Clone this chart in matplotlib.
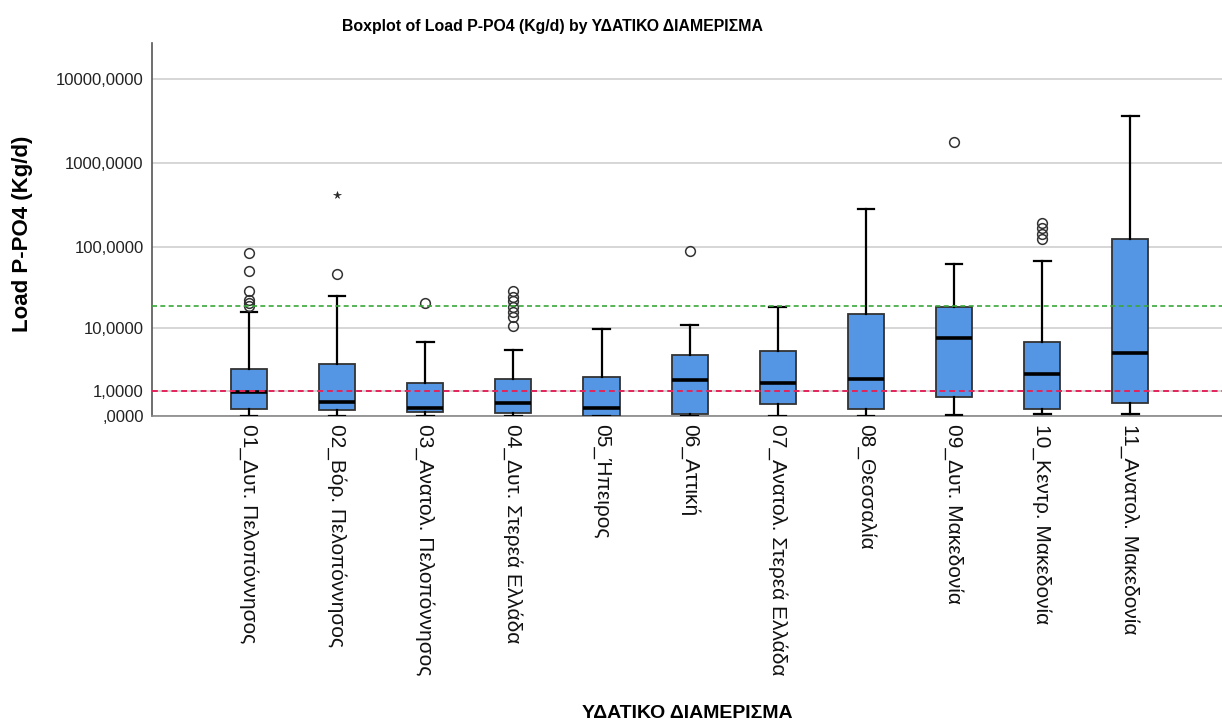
import numpy as np
import matplotlib
matplotlib.use("Agg")
import matplotlib.pyplot as plt
from matplotlib import font_manager

# ── Data: five-number summaries per water district (Kg/d) ─────────────────────
regions = [
    "01_Δυτ. Πελοπόννησος",
    "02_Βόρ. Πελοπόννησος",
    "03_Ανατολ. Πελοπόννησος",
    "04_Δυτ. Στερεά Ελλάδα",
    "05_Ήπειρος",
    "06_Αττική",
    "07_Ανατολ. Στερεά Ελλάδα",
    "08_Θεσσαλία",
    "09_Δυτ. Μακεδονία",
    "10_Κεντρ. Μακεδονία",
    "11_Ανατολ. Μακεδονία",
]
whisker_lo = [0.0, 0.0, 0.0, 0.0, 0.0, 0.0, 0.0, 0.0, 0.036, 0.047, 0.065]
q1         = [0.21, 0.18, 0.106, 0.077, 0.01, 0.056, 0.38, 0.22, 0.69, 0.21, 0.44]
median     = [0.91, 0.45, 0.23, 0.44, 0.26, 1.70, 1.44, 1.72, 7.5, 2.18, 4.55]
q3         = [2.61, 3.14, 1.48, 1.77, 1.88, 4.30, 4.91, 15.2, 18.8, 6.62, 125.0]
whisker_hi = [16.0, 25.6, 6.55, 5.03, 9.87, 10.9, 18.7, 283.0, 62.7, 68.8, 3638.0]
outliers = [
    [19.2, 21.1, 22.8, 29.5, 51.6, 85.7],
    [47.1],
    [20.9],
    [10.6, 14.1, 16.3, 18.5, 22.0, 24.6, 29.5],
    [],
    [90.6],
    [],
    [],
    [1802.0],
    [125.0, 143.6, 168.0, 196.0],
    [],
]
extremes = [[], [419.0], [], [], [], [], [], [], [], [], []]

ref_red = 1.0
ref_green = 19.3

y_ticks = [0, 1, 10, 100, 1000, 10000]
y_ticklabels = [",0000", "1,0000", "10,0000", "100,0000", "1000,0000", "10000,0000"]

title = "Boxplot of Load P-PO4 (Kg/d) by ΥΔΑΤΙΚΟ ΔΙΑΜΕΡΙΣΜΑ"
y_title = "Load P-PO4 (Kg/d)"
x_title = "ΥΔΑΤΙΚΟ ΔΙΑΜΕΡΙΣΜΑ"

# ── Style ────────────────────────────────────────────────────────────────────
plt.rcParams["font.family"] = ["Liberation Sans", "DejaVu Sans"]
BOX_BLUE = "#5596e4"
EDGE = "#333333"

try:
    font_manager.findfont(font_manager.FontProperties(family="Liberation Sans Narrow"),
                          fallback_to_default=False)
    tick_family, tick_size = ["Liberation Sans Narrow", "DejaVu Sans"], 18.5
except ValueError:
    tick_family, tick_size = ["Liberation Sans", "DejaVu Sans"], 15


def fwd(v):
    return np.log10(np.clip(v, 0, None) + 1)


def inv(t):
    return 10 ** t - 1


fig = plt.figure(figsize=(12.22, 7.2), dpi=100, facecolor="white")
ax = fig.add_axes([152 / 1222, 1 - 416 / 720, 1 - 152 / 1222, (416 - 43) / 720])
ax.set_yscale("function", functions=(fwd, inv))

stats = []
for i, name in enumerate(regions):
    stats.append(dict(label=name, whislo=whisker_lo[i], q1=q1[i], med=median[i],
                      q3=q3[i], whishi=whisker_hi[i], fliers=outliers[i]))

positions = np.arange(len(regions))
ax.bxp(stats, positions=positions, widths=0.41, capwidths=0.19,
       patch_artist=True, showfliers=True,
       boxprops=dict(facecolor=BOX_BLUE, edgecolor=EDGE, linewidth=1.3),
       medianprops=dict(color="black", linewidth=2.6),
       whiskerprops=dict(color="black", linewidth=1.6),
       capprops=dict(color="black", linewidth=1.6),
       flierprops=dict(marker="o", markersize=7, markerfacecolor="none",
                       markeredgecolor=EDGE, markeredgewidth=1.1),
       zorder=3)

# extreme values get an asterisk instead of a circle
for i, ext in enumerate(extremes):
    if ext:
        ax.plot([positions[i]] * len(ext), ext, linestyle="none", marker="*",
                markersize=5.5, color="#222222", markeredgewidth=0.4, zorder=4)

ax.axhline(ref_red, color="#e3245a", linestyle=(0, (3, 2)), linewidth=1.4, zorder=4)
ax.axhline(ref_green, color="#3aa83a", linestyle=(0, (3, 2)), linewidth=1.2, zorder=4)

ax.set_ylim(0, 26700)
ax.set_xlim(-1.10, 11.04)
ax.set_yticks(y_ticks)
ax.set_yticklabels(y_ticklabels, fontsize=12, color="#222222")
ax.yaxis.set_minor_locator(matplotlib.ticker.NullLocator())
ax.grid(axis="y", color="#d3d3d3", linewidth=1.3, zorder=0)
ax.set_axisbelow(True)

ax.set_xticks(positions)
ax.set_xticklabels(regions, rotation=-90, ha="center", va="top",
                   fontsize=tick_size, family=tick_family, color="#111111")
ax.tick_params(axis="both", length=0)
ax.tick_params(axis="y", pad=6)
ax.tick_params(axis="x", pad=6)

for side in ("top", "right"):
    ax.spines[side].set_visible(False)
ax.spines["left"].set_color("#555555")
ax.spines["bottom"].set_color("#888888")
ax.spines["left"].set_linewidth(1.2)
ax.spines["bottom"].set_linewidth(1.2)

fig.text(552 / 1222, 1 - 27 / 720, title, ha="center", va="center",
         fontsize=11.4, fontweight="bold")
fig.text(23 / 1222, 1 - 234 / 720, y_title, ha="center", va="center",
         rotation=90, fontsize=16, fontweight="bold")
fig.text(687 / 1222, 1 - 705 / 720, x_title, ha="center", va="top",
         fontsize=14, fontweight="bold")

fig.savefig("out.png", dpi=100, facecolor="white")
plt.close(fig)
